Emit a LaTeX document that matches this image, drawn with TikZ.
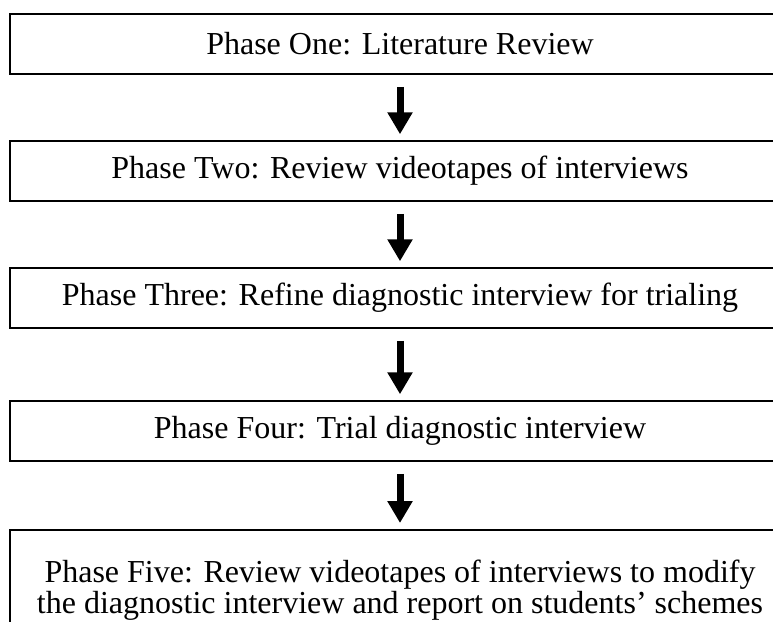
\documentclass[tikz,border=0pt]{standalone}
\usepackage{fontspec}
\setmainfont{Liberation Serif}
\usetikzlibrary{arrows.meta}
\tikzset{
  phase/.style={draw, line width=1.5pt, minimum width=780pt, minimum height=60pt,
    align=center, inner sep=0pt, font=\fontsize{32}{31}\selectfont},
  flow/.style={line width=7pt, -{Triangle[width=24pt,length=22pt]},
    shorten <=12pt, shorten >=6pt}
}
\begin{document}
\begin{tikzpicture}[x=1pt,y=-1pt]
		\useasboundingbox (0,0) rectangle (773,621);
		\node [phase] (one) at (400,44) {Phase One: Literature Review};
		\node [phase] (two) at (400,171) {Phase Two: Review videotapes of interviews};
		\node [phase] (three) at (400,298) {Phase Three: Refine diagnostic interview for trialing};
		\node [phase] (four) at (400,431) {Phase Four: Trial diagnostic interview};
		% last box runs off the page
		\node [phase, minimum height=120pt, anchor=north] (five) at (400,529)
			{Phase Five: Review videotapes of interviews to modify\\the diagnostic interview and report on students' schemes};
		\draw [flow] (one) -- (two);
		\draw [flow] (two) -- (three);
		\draw [flow] (three) -- (four);
		\draw [flow] (four) -- (five);
	\end{tikzpicture}
\end{document}
